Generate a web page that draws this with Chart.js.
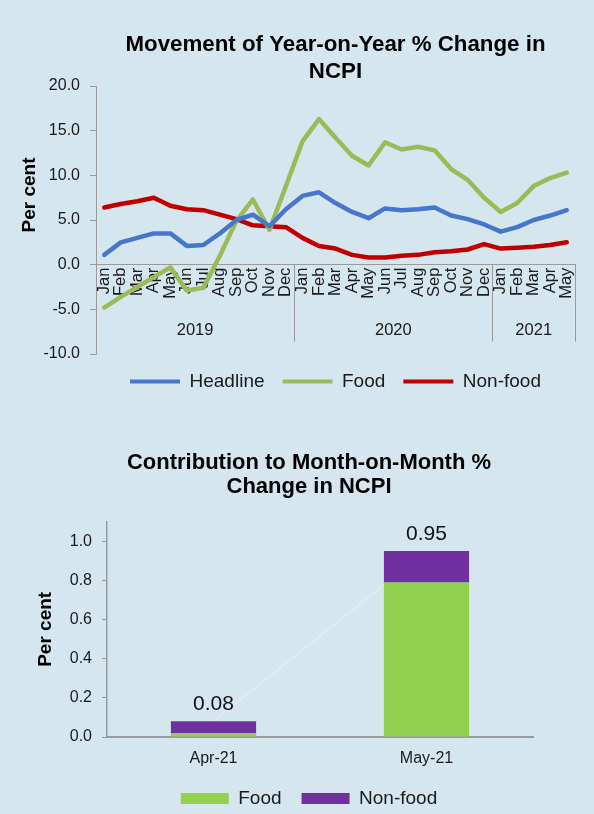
<!DOCTYPE html>
<html>
<head>
<meta charset="utf-8">
<script src="https://cdn.jsdelivr.net/npm/chart.js@4.4.0/dist/chart.umd.min.js"></script>
<style>
  html, body { margin: 0; padding: 0; background: #d6e6ef; width: 594px; height: 814px; overflow: hidden; }
  canvas { display: block; }
</style>
</head>
<body>
<canvas id="yoy" width="594" height="405"></canvas>
<canvas id="mom" width="618" height="413"></canvas>
<script>
// ---------- Data: Year-on-Year % change ----------
const years = ['2019', '2020', '2021'];
const monthsPerYear = [12, 12, 5];
const monthLabels = [
  'Jan','Feb','Mar','Apr','May','Jun','Jul','Aug','Sep','Oct','Nov','Dec',
  'Jan','Feb','Mar','Apr','May','Jun','Jul','Aug','Sep','Oct','Nov','Dec',
  'Jan','Feb','Mar','Apr','May'
];
const headline = [1.1, 2.5, 3.0, 3.5, 3.5, 2.1, 2.2, 3.5, 5.0, 5.6, 4.3, 6.2,
                  7.7, 8.1, 6.9, 5.9, 5.2, 6.3, 6.1, 6.2, 6.4, 5.5, 5.1, 4.5,
                  3.7, 4.2, 5.0, 5.5, 6.1];
const food = [-4.8, -3.6, -2.5, -1.4, -0.3, -2.9, -2.6, 1.0, 4.9, 7.3, 3.9, 8.8,
              13.8, 16.3, 14.2, 12.2, 11.1, 13.7, 12.9, 13.2, 12.8, 10.7, 9.5, 7.5,
              5.9, 6.9, 8.8, 9.7, 10.3];
const nonFood = [6.4, 6.8, 7.1, 7.5, 6.6, 6.2, 6.1, 5.6, 5.1, 4.4, 4.3, 4.2,
                 3.0, 2.1, 1.8, 1.1, 0.8, 0.8, 1.0, 1.1, 1.4, 1.5, 1.7, 2.3,
                 1.8, 1.9, 2.0, 2.2, 2.5];
const yoyTitle = ['Movement of Year-on-Year % Change in', 'NCPI'];
const yoyAxisMin = -10, yoyAxisMax = 20, yoyStep = 5;

// ---------- Data: Month-on-Month contribution ----------
const momCategories = ['Apr-21', 'May-21'];
const momFood = [0.02, 0.79];
const momNonFood = [0.06, 0.16];
const momTotal = [0.08, 0.95];
const momTitle = ['Contribution to Month-on-Month %', 'Change in NCPI'];
const momAxisMin = 0, momAxisMax = 1.1, momStep = 0.2;

const FONT = "'Liberation Sans', Arial, Helvetica, sans-serif";
const AXIS_GREY = '#9a9a9a';
const TEXT = '#1a1a1a';

Chart.defaults.font.family = FONT;
Chart.defaults.color = TEXT;

function noBorderLegendLabels(chart) {
  return Chart.defaults.plugins.legend.labels.generateLabels(chart).map(l => {
    l.lineWidth = 0;
    l.strokeStyle = 'rgba(0,0,0,0)';
    return l;
  });
}

// Year group labels and separators under the month axis + rotated y title
const yearGroupPlugin = {
  id: 'yearGroups',
  afterDraw(chart) {
    const { ctx, scales: { x, y } } = chart;
    const y0 = y.getPixelForValue(0);
    ctx.save();
    ctx.strokeStyle = AXIS_GREY;
    ctx.lineWidth = 1;
    ctx.fillStyle = TEXT;
    ctx.font = '16.5px ' + FONT;
    ctx.textAlign = 'center';
    ctx.textBaseline = 'middle';
    let start = 0;
    const bounds = [x.getPixelForValue(-0.5)];
    years.forEach((yr, i) => {
      const end = start + monthsPerYear[i];
      const left = x.getPixelForValue(start - 0.5);
      const right = x.getPixelForValue(end - 0.5);
      bounds.push(right);
      ctx.fillText(yr, (left + right) / 2, y0 + 66);
      start = end;
    });
    bounds.forEach(bx => {
      const px = Math.round(bx) + 0.5;
      ctx.beginPath();
      ctx.moveTo(px, y0);
      ctx.lineTo(px, y0 + 77);
      ctx.stroke();
    });
    // y axis title
    ctx.translate(30, 195);
    ctx.rotate(-Math.PI / 2);
    ctx.font = 'bold 19px ' + FONT;
    ctx.fillStyle = '#000';
    ctx.fillText('Per cent', 0, 0);
    ctx.restore();
  }
};

new Chart(document.getElementById('yoy'), {
  type: 'line',
  data: {
    labels: monthLabels,
    datasets: [
      { label: 'Headline', data: headline, borderColor: '#4677cc', backgroundColor: '#4677cc' },
      { label: 'Food', data: food, borderColor: '#9bbb59', backgroundColor: '#9bbb59' },
      { label: 'Non-food', data: nonFood, borderColor: '#c00000', backgroundColor: '#c00000' }
    ]
  },
  options: {
    responsive: false,
    animation: false,
    events: [],
    layout: { padding: { top: 0, left: 0, right: 19, bottom: 4 } },
    elements: {
      line: { borderWidth: 4.5, tension: 0, borderCapStyle: 'round', borderJoinStyle: 'round' },
      point: { radius: 0 }
    },
    scales: {
      x: {
        type: 'category',
        offset: true,
        position: { y: 0 },
        grid: { display: false, drawTicks: false },
        border: { display: true, color: AXIS_GREY, width: 1 },
        ticks: {
          autoSkip: false, maxRotation: 90, minRotation: 90, padding: 3,
          font: { size: 16.5 }, color: TEXT
        }
      },
      y: {
        min: yoyAxisMin, max: yoyAxisMax,
        afterFit(scale) { scale.width = 96; },
        grid: { drawOnChartArea: false, drawTicks: true, tickLength: 6, color: AXIS_GREY },
        border: { display: true, color: AXIS_GREY, width: 1 },
        ticks: {
          stepSize: yoyStep, padding: 10, font: { size: 16 }, color: TEXT,
          callback: v => Number(v).toFixed(1)
        }
      }
    },
    plugins: {
      title: {
        display: true, text: yoyTitle, fullSize: false, color: '#000',
        font: { size: 22.3, weight: 'bold', lineHeight: 1.2 },
        padding: { top: 31.5, bottom: 1 }
      },
      legend: {
        position: 'bottom', fullSize: false,
        labels: {
          boxWidth: 50, boxHeight: 4, padding: 18, font: { size: 19 }, color: TEXT,
          generateLabels: noBorderLegendLabels
        }
      },
      tooltip: { enabled: false }
    }
  },
  plugins: [yearGroupPlugin]
});

// Total labels above the stacked bars
const totalLabelPlugin = {
  id: 'totalLabels',
  afterDatasetsDraw(chart) {
    const { ctx } = chart;
    const idx = chart.data.datasets.findIndex(d => d.label === 'Total');
    const meta = chart.getDatasetMeta(idx);
    ctx.save();
    ctx.font = '21px ' + FONT;
    ctx.fillStyle = '#111';
    ctx.textAlign = 'center';
    ctx.textBaseline = 'middle';
    meta.data.forEach((pt, i) => {
      ctx.fillText(momTotal[i].toFixed(2), pt.x, pt.y - 17);
    });
    ctx.restore();
  }
};

new Chart(document.getElementById('mom'), {
  type: 'bar',
  data: {
    labels: momCategories,
    datasets: [
      { type: 'line', label: 'Total', data: momTotal, borderColor: 'rgba(255,255,255,0.2)',
        borderWidth: 2, pointRadius: 0, order: 3 },
      { label: 'Food', data: momFood, backgroundColor: '#92d050', order: 1,
        barPercentage: 0.4, categoryPercentage: 1.0 },
      { label: 'Non-food', data: momNonFood, backgroundColor: '#7030a0', order: 1,
        barPercentage: 0.4, categoryPercentage: 1.0 }
    ]
  },
  options: {
    responsive: false,
    animation: false,
    events: [],
    layout: { padding: { top: 0, left: 0, right: 0, bottom: 0 } },
    scales: {
      x: {
        stacked: true,
        afterFit(scale) { scale.height = 32; },
        grid: { display: false, drawTicks: false },
        border: { display: true, color: AXIS_GREY, width: 2 },
        ticks: { padding: 12, font: { size: 16 }, color: TEXT }
      },
      y: {
        stacked: true,
        min: momAxisMin, max: momAxisMax,
        afterFit(scale) { scale.width = 107; },
        grid: { drawOnChartArea: false, drawTicks: true, tickLength: 5, color: AXIS_GREY },
        border: { display: true, color: AXIS_GREY, width: 1.5 },
        ticks: {
          stepSize: momStep, includeBounds: false, padding: 10, font: { size: 16 }, color: TEXT,
          callback: v => Number(v).toFixed(1)
        },
        title: {
          display: true, text: 'Per cent', color: '#000',
          font: { size: 19, weight: 'bold' },
          padding: { top: 34, bottom: 0 }
        }
      },
      // empty spacer on the right so the plot sits left of the centred title/legend
      spacer: {
        type: 'linear', position: 'right', display: true,
        afterFit(scale) { scale.width = 85; },
        grid: { display: false, drawTicks: false },
        border: { display: false },
        ticks: { display: false }
      }
    },
    plugins: {
      title: {
        display: true, text: momTitle, color: '#000',
        font: { size: 22, weight: 'bold', lineHeight: 1.1 },
        padding: { top: 45.6, bottom: 22.7 }
      },
      legend: {
        position: 'bottom',
        labels: {
          boxWidth: 48, boxHeight: 11, padding: 20, font: { size: 19 }, color: TEXT,
          filter: item => item.text !== 'Total',
          generateLabels: noBorderLegendLabels
        }
      },
      tooltip: { enabled: false }
    }
  },
  plugins: [totalLabelPlugin]
});
</script>
</body>
</html>
